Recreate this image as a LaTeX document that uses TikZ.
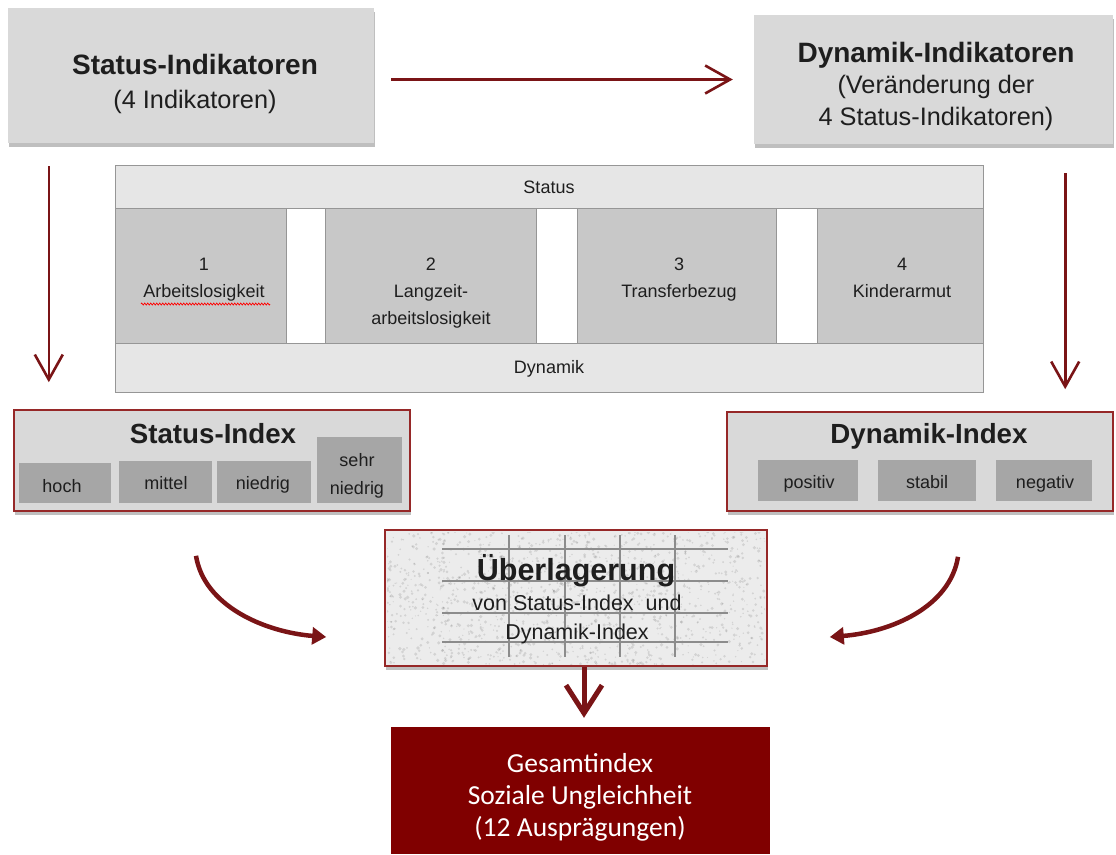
\documentclass[tikz,border=0pt]{standalone}
\usepackage{fontspec}
\setmainfont{Liberation Sans}
\newfontfamily\calibfont{Carlito}
\usetikzlibrary{arrows.meta,shadows,decorations.pathmorphing}
\definecolor{arrred}{RGB}{122,20,22}
\definecolor{frame}{RGB}{150,40,40}
\definecolor{gesred}{RGB}{128,0,0}
\definecolor{boxgray}{RGB}{217,217,217}
\definecolor{rowgray}{RGB}{230,230,230}
\definecolor{cellgray}{RGB}{200,200,200}
\definecolor{subgray}{RGB}{166,166,166}
\definecolor{tline}{RGB}{150,150,150}
\definecolor{ufill}{RGB}{236,236,236}
\definecolor{gridc}{RGB}{140,140,140}
\definecolor{txt}{RGB}{30,30,30}
\newcommand\fsz[2]{\fontsize{#1}{#2}\selectfont}
\begin{document}
\begin{tikzpicture}[x=1pt,y=-1pt,
  shad/.style={drop shadow={shadow xshift=1pt,shadow yshift=-4pt,opacity=0.25,fill=black}},
  graybox/.style={fill=boxgray,inner sep=0pt,shad},
  idxbox/.style={fill=boxgray,draw=frame,line width=1.6pt,inner sep=0pt,shad},
  subbox/.style={fill=subgray,inner sep=0pt},
  rowbox/.style={fill=rowgray,draw=tline,line width=1pt,inner sep=0pt},
  cellbox/.style={fill=cellgray,draw=tline,line width=1pt,inner sep=0pt},
  lbl/.style={anchor=base,inner sep=0pt,align=center,text=txt},
  gridline/.style={draw=gridc,line width=1.3pt},
  grain/.style={fill=black,opacity=0.10},
  thinarr/.style={draw=arrred,line width=2.6pt,-{Straight Barb[length=25pt,width=28pt]}},
  curvarr/.style={draw=arrred,line width=4.5pt,-{Triangle[length=14pt,width=17pt]}},
  fatarr/.style={draw=arrred,line width=5pt,-{Straight Barb[length=28pt,width=36pt]}},
]
\useasboundingbox (0,0) rectangle (1116,854);

% top boxes
\node[graybox,minimum width=366,minimum height=135] (sind) at (191,75.5) {};
\node[lbl,font=\fsz{28}{33.5}] (sindt) at (195,108.2) {\textbf{Status-Indikatoren}\\\fsz{25.3}{33.5}(4 Indikatoren)};
\node[graybox,minimum width=359,minimum height=129] (dind) at (933.5,79.5) {};
\node[lbl,font=\fsz{25.3}{31.5}] (dindt) at (936,125.2) {{\fsz{28}{31.5}\textbf{Dynamik-Indikatoren}}\\(Veränderung der\\4 Status-Indikatoren)};

% table
\node[draw=tline,line width=1pt,fill=white,inner sep=0pt,minimum width=868,minimum height=135] (mrow) at (549,275.5) {};
\node[rowbox,minimum width=868,minimum height=43] (trow) at (549,186.5) {};
\node[rowbox,minimum width=868,minimum height=49] (brow) at (549,367.5) {};
\node[cellbox,minimum width=171,minimum height=135] (c1) at (200.5,275.5) {};
\node[cellbox,minimum width=211,minimum height=135] (c2) at (430.5,275.5) {};
\node[cellbox,minimum width=199,minimum height=135] (c3) at (676.5,275.5) {};
\node[cellbox,minimum width=166,minimum height=135] (c4) at (900,275.5) {};
\node[lbl,font=\fsz{18}{21}] (trowt) at (549,193.3) {Status};
\node[lbl,font=\fsz{18}{21}] (browt) at (549,373) {Dynamik};
\node[lbl,font=\fsz{18}{27}] (c1t) at (204,297.3) {1\\Arbeitslosigkeit};
\node[lbl,font=\fsz{18}{27}] (c2t) at (431,324.3) {2\\Langzeit-\\arbeitslosigkeit};
\node[lbl,font=\fsz{18}{27}] (c3t) at (679,297.3) {3\\Transferbezug};
\node[lbl,font=\fsz{18}{27}] (c4t) at (902,297.3) {4\\Kinderarmut};
\draw[red,line width=0.7pt,decorate,decoration={zigzag,amplitude=1pt,segment length=3pt}] (141,304) -- (270,304);

% Status-Index
\node[idxbox,minimum width=396,minimum height=101] (sidx) at (212,460.5) {};
\node[lbl,font=\fsz{27.7}{30}\bfseries] (sidxt) at (213,443.2) {Status-Index};
\node[subbox,minimum width=92,minimum height=40] (hoch) at (65,483) {};
\node[subbox,minimum width=93,minimum height=42] (mittel) at (165.5,482) {};
\node[subbox,minimum width=94,minimum height=42] (niedrig) at (264,482) {};
\node[subbox,minimum width=85,minimum height=66] (sehr) at (359.5,470) {};
\node[lbl,font=\fsz{18}{28}] (hocht) at (62,492.6) {hoch};
\node[lbl,font=\fsz{18}{28}] (mittelt) at (166,489.6) {mittel};
\node[lbl,font=\fsz{18}{28}] (niedrigt) at (263,489) {niedrig};
\node[lbl,font=\fsz{18}{28}] (sehrt) at (357,494) {sehr\\niedrig};

% Dynamik-Index
\node[idxbox,minimum width=386,minimum height=99] (didx) at (920,461.5) {};
\node[lbl,font=\fsz{27.7}{30}\bfseries] (didxt) at (929,443.2) {Dynamik-Index};
\node[subbox,minimum width=100,minimum height=41] (pos) at (808,480.5) {};
\node[subbox,minimum width=98,minimum height=41] (stab) at (927,480.5) {};
\node[subbox,minimum width=96,minimum height=41] (neg) at (1044,480.5) {};
\node[lbl,font=\fsz{18}{28}] (post) at (809,488) {positiv};
\node[lbl,font=\fsz{18}{28}] (stabt) at (927,488) {stabil};
\node[lbl,font=\fsz{18}{28}] (negt) at (1045,488) {negativ};

% Ueberlagerung
\node[fill=ufill,draw=frame,line width=1.6pt,inner sep=0pt,minimum width=382,minimum height=136,shad] (ueber) at (576,598) {};
\begin{scope}
\clip (387,532) rectangle (765,664);
\pgfmathsetseed{7}
\foreach \i in {1,...,1400} {
  \pgfmathsetmacro\gx{386+380*rnd}
  \pgfmathsetmacro\gy{531+134*rnd}
  \pgfmathsetmacro\gr{0.6+1.2*rnd}
  \fill[grain] (\gx,\gy) circle[radius=\gr pt];
}
\end{scope}
\foreach \yy in {549,581,613,642} \draw[gridline] (442,\yy) -- (728,\yy);
\foreach \xx in {509,565,620,675} \draw[gridline] (\xx,535) -- (\xx,657);
\node[lbl,font=\fsz{30.5}{30}\bfseries] (u1) at (576,580) {Überlagerung};
\node[lbl,font=\fsz{21.5}{29}] (u2) at (577,639.3) {von Status-Index~ und\\Dynamik-Index};

% Gesamtindex
\node[fill=gesred,inner sep=0pt,minimum width=379,minimum height=127] (ges) at (580.5,790.5) {};
\node[lbl,text=white,font=\calibfont\fsz{27.5}{32}] (gest) at (580,836) {Gesamtindex\\Soziale Ungleichheit\\(12 Ausprägungen)};

% arrows
\draw[thinarr,shorten <=17pt,shorten >=21pt] (sind.east |- dind.west) -- (dind.west);
\coordinate (la) at ([xshift=41pt]sind.south west);
\draw[thinarr,shorten <=23pt,shorten >=27pt] (la) -- (la |- sidx.north);
\coordinate (ra) at ([xshift=-48pt]dind.south east);
\draw[thinarr,shorten <=29pt,shorten >=22pt] (ra) -- (ra |- didx.north);
\coordinate (c1s) at ([xshift=-16pt,yshift=-44pt]sidx.south);
\coordinate (c1e) at ([xshift=-58pt,yshift=-39pt]ueber.west);
\draw[curvarr] (c1s) .. controls +(8,50) and +(-62,-5) .. (c1e);
\coordinate (c2s) at ([xshift=38pt,yshift=-45pt]didx.south);
\coordinate (c2e) at ([xshift=62pt,yshift=-39pt]ueber.east);
\draw[curvarr] (c2s) .. controls +(-8,50) and +(62,-5) .. (c2e);
\coordinate (ua) at ([xshift=8pt]ueber.south);
\draw[fatarr,shorten >=9pt] (ua) -- (ua |- ges.north);
\end{tikzpicture}
\end{document}
